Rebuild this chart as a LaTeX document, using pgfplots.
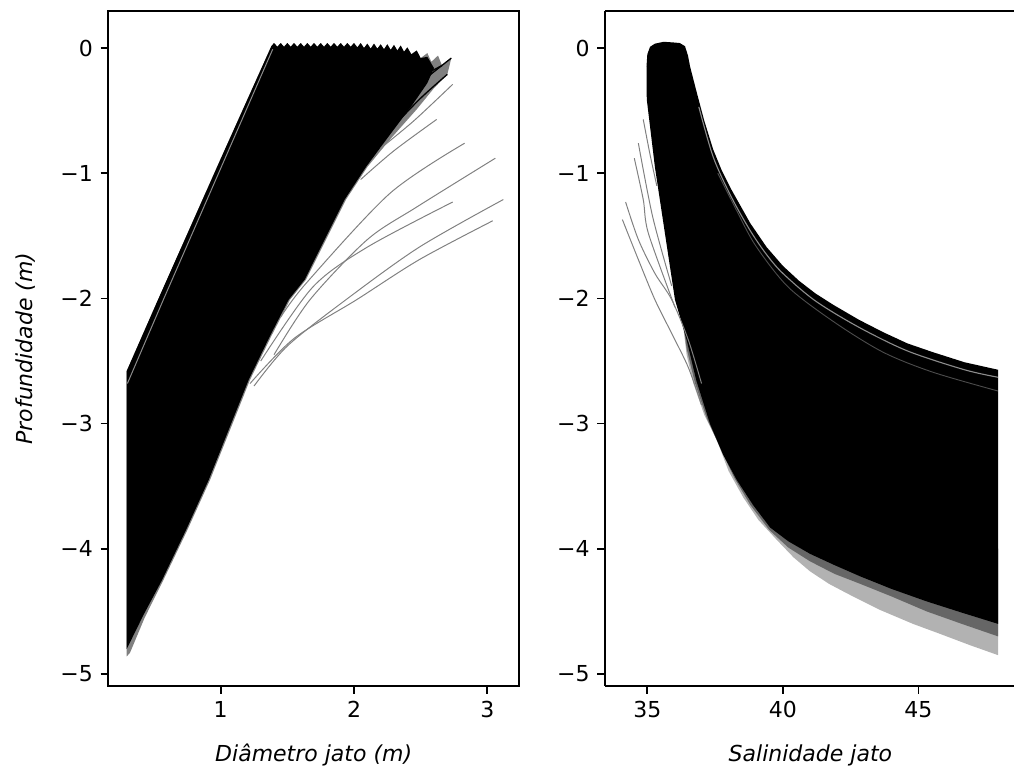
\documentclass[border=0pt]{standalone}
\usepackage{fontspec}
\setmainfont{DejaVu Sans}
\usepackage{pgfplots}
\pgfplotsset{compat=1.18}
\begin{document}
\begin{tikzpicture}
\pgfplotsset{
  myax/.style={
    scale only axis, width=186.7pt, height=306.8pt,
    ymin=-5.096, ymax=0.296,
    ytick={-5,-4,-3,-2,-1,0}, yticklabels={−5,−4,−3,−2,−1,0},
    tick align=outside, major tick length=3.5pt,
    tickpos=left,
    every tick/.style={black, line width=0.8pt},
    axis line style={line width=0.8pt},
    tick label style={font=\fontsize{10}{12}\selectfont},
    label style={font=\fontsize{10}{12}\selectfont\itshape},
    /pgf/number format/assume math mode=true,
    xlabel style={at={(axis description cs:0.5,-0.1023)}, anchor=center},
  },
  gl/.style={black!50, line width=0.45pt, smooth},
}
% ---------------- left panel ----------------
\begin{axis}[myax, at={(49.23pt,40pt)}, anchor=south west,
  xmin=0.157, xmax=3.238, xtick={1,2,3}, xticklabels={1,2,3},
  xlabel={Diâmetro jato (m)}, ylabel={Profundidade (m)},
  ylabel style={at={(axis description cs:-0.2003,0.5)}, anchor=center}]
% gray envelope (sparser lines)
\addplot[fill=black!50, draw=none] coordinates {
(0.295,-4.86) (0.295,-2.58) (0.53,-2.01) (1.0,-0.885) (1.38,0.015)
(1.40,0.04) (1.425,0.01) (1.45,0.04) (1.475,0.01) (1.50,0.04) (1.525,0.01)
(1.55,0.04) (1.575,0.01) (1.60,0.04) (1.625,0.01) (1.65,0.04) (1.675,0.01)
(1.70,0.04) (1.725,0.01) (1.75,0.04) (1.775,0.01) (1.80,0.04) (1.825,0.01)
(1.85,0.04) (1.875,0.01) (1.90,0.04) (1.925,0.01) (1.95,0.04) (1.975,0.01)
(2.00,0.04) (2.025,0.005) (2.05,0.04) (2.075,0.0) (2.10,0.035) (2.125,-0.005)
(2.15,0.035) (2.175,-0.005) (2.20,0.03) (2.225,-0.01) (2.25,0.03) (2.275,-0.015)
(2.30,0.025) (2.325,-0.02) (2.35,0.02) (2.375,-0.03) (2.40,0.005) (2.43,-0.05)
(2.47,-0.02) (2.50,-0.08) (2.55,-0.04) (2.58,-0.11) (2.63,-0.06) (2.66,-0.14)
(2.73,-0.08) (2.70,-0.21) (2.60,-0.32) (2.47,-0.49) (2.27,-0.73) (2.10,-0.95)
(1.94,-1.21) (1.79,-1.53) (1.64,-1.85) (1.52,-2.01) (1.38,-2.30) (1.22,-2.65)
(1.07,-3.05) (0.92,-3.45) (0.75,-3.85) (0.57,-4.25) (0.43,-4.55) (0.32,-4.83)
} -- cycle;
% dense black core
\addplot[fill=black, draw=none] coordinates {
(0.295,-4.80) (0.295,-2.58) (0.53,-2.01) (1.0,-0.885) (1.38,0.015)
(1.40,0.04) (1.425,0.01) (1.45,0.04) (1.475,0.01) (1.50,0.04) (1.525,0.01)
(1.55,0.04) (1.575,0.01) (1.60,0.04) (1.625,0.01) (1.65,0.04) (1.675,0.01)
(1.70,0.04) (1.725,0.01) (1.75,0.04) (1.775,0.01) (1.80,0.04) (1.825,0.01)
(1.85,0.04) (1.875,0.01) (1.90,0.04) (1.925,0.01) (1.95,0.04) (1.975,0.01)
(2.00,0.04) (2.025,0.005) (2.05,0.04) (2.075,0.0) (2.10,0.035) (2.125,-0.005)
(2.15,0.035) (2.175,-0.005) (2.20,0.03) (2.225,-0.01) (2.25,0.03) (2.275,-0.015)
(2.30,0.025) (2.325,-0.02) (2.35,0.02) (2.375,-0.03) (2.40,0.005) (2.43,-0.05)
(2.47,-0.02) (2.50,-0.08) (2.55,-0.07)
(2.60,-0.16) (2.55,-0.28) (2.44,-0.45) (2.25,-0.72) (2.09,-0.95) (1.93,-1.21)
(1.78,-1.53) (1.63,-1.85) (1.51,-2.01) (1.37,-2.30) (1.21,-2.65) (1.06,-3.05)
(0.91,-3.45) (0.74,-3.85) (0.56,-4.25) (0.42,-4.53) (0.30,-4.79)
} -- cycle;
% dark lines reaching the upper right tips
\addplot[black, line width=0.6pt, smooth] coordinates {(2.15,-0.62) (2.45,-0.32) (2.73,-0.08)};
\addplot[black, line width=0.6pt, smooth] coordinates {(2.10,-0.60) (2.40,-0.30) (2.66,-0.14)};
\addplot[black, line width=0.6pt, smooth] coordinates {(2.30,-0.62) (2.50,-0.40) (2.70,-0.21)};
% light streak near the left edge
\addplot[white, opacity=0.55, line width=0.45pt] coordinates {(0.30,-2.68) (0.57,-2.01) (1.39,-0.01)};
% isolated trajectories
\addplot[gl] coordinates {(2.20,-0.80) (2.45,-0.58) (2.74,-0.29)};
\addplot[gl] coordinates {(2.05,-1.05) (2.30,-0.82) (2.62,-0.57)};
\addplot[gl] coordinates {(1.45,-2.15) (1.64,-1.88) (2.27,-1.16) (2.83,-0.76)};
\addplot[gl] coordinates {(1.40,-2.45) (1.67,-2.01) (2.10,-1.53) (2.47,-1.27) (3.06,-0.88)};
\addplot[gl] coordinates {(1.30,-2.50) (1.69,-1.91) (2.10,-1.59) (2.74,-1.23)};
\addplot[gl] coordinates {(1.25,-2.70) (1.50,-2.38) (1.94,-2.01) (2.49,-1.59) (3.12,-1.21)};
\addplot[gl] coordinates {(1.22,-2.68) (1.55,-2.32) (2.02,-2.01) (2.49,-1.69) (3.04,-1.38)};
\end{axis}
% ---------------- right panel ----------------
\begin{axis}[myax, at={(275.0pt,40pt)}, anchor=south west,
  separate axis lines, axis x line*=box, axis y line*=left,
  xmin=33.44, xmax=48.59, xtick={35,40,45}, xticklabels={35,40,45},
  xlabel={Salinidade jato}]
% lower gray fringe, outer (light)
\addplot[fill=black!30, draw=none] coordinates {
(36.2,-2.0) (36.45,-2.45) (36.7,-2.68) (37.1,-2.93) (37.56,-3.13) (38.0,-3.38)
(38.54,-3.59) (39.1,-3.77) (39.78,-3.93) (40.4,-4.07) (41.0,-4.18) (41.7,-4.28)
(42.4,-4.36) (43.6,-4.49) (44.8,-4.60) (45.8,-4.68) (46.9,-4.77) (47.94,-4.85)
(47.94,-4.0) (40.0,-3.5) (38.0,-3.0)
} -- cycle;
% lower gray fringe, inner (darker)
\addplot[fill=black!60, draw=none] coordinates {
(36.2,-2.0) (36.45,-2.40) (36.75,-2.67) (37.2,-2.96) (37.7,-3.20) (38.2,-3.43)
(38.8,-3.65) (39.5,-3.85) (40.2,-3.99) (41.0,-4.10) (41.9,-4.20) (42.85,-4.28)
(44.0,-4.38) (45.3,-4.50) (46.6,-4.60) (47.94,-4.70)
(47.94,-4.0) (40.0,-3.5) (38.0,-3.0)
} -- cycle;
% dense black core
\addplot[fill=black, draw=none] coordinates {
(34.98,-0.41) (34.97,-0.15) (35.0,-0.05) (35.1,0.01) (35.28,0.035) (35.6,0.05)
(35.95,0.045) (36.2,0.04) (36.39,0.015) (36.50,-0.06) (36.58,-0.15) (36.83,-0.36)
(37.1,-0.58) (37.43,-0.81) (37.75,-0.98) (38.1,-1.13) (38.8,-1.40) (39.4,-1.59)
(40.0,-1.74) (40.6,-1.86) (41.2,-1.96) (41.85,-2.05) (42.8,-2.17) (43.7,-2.27)
(44.6,-2.36) (45.54,-2.43) (46.7,-2.51) (47.94,-2.57)
(47.94,-4.60) (46.6,-4.51) (45.3,-4.42) (44.0,-4.32) (42.85,-4.22) (41.9,-4.13)
(41.0,-4.04) (40.2,-3.94) (39.53,-3.83) (38.9,-3.65) (38.3,-3.45) (37.8,-3.25)
(37.31,-3.0) (36.8,-2.65) (36.45,-2.33) (36.02,-2.01) (35.65,-1.48) (35.28,-0.95)
} -- cycle;
% light streaks in the upper band
\addplot[white, opacity=0.55, line width=0.5pt, smooth] coordinates {
(36.9,-0.47) (37.43,-0.87) (38.1,-1.19) (38.8,-1.46) (39.4,-1.65) (40.0,-1.80)
(41.2,-2.02) (42.8,-2.23) (44.6,-2.42) (46.7,-2.57) (47.94,-2.63)};
\addplot[white, opacity=0.3, line width=0.4pt, smooth] coordinates {
(37.6,-1.0) (38.3,-1.30) (39.0,-1.58) (40.2,-1.91) (41.9,-2.19)
(43.7,-2.43) (45.54,-2.59) (47.94,-2.74)};
% isolated trajectories
\addplot[gl] coordinates {(34.85,-0.57) (35.10,-0.85) (35.35,-1.10)};
\addplot[gl] coordinates {(34.67,-0.76) (35.20,-1.35) (35.90,-1.90)};
\addplot[gl] coordinates {(34.52,-0.88) (34.85,-1.21) (35.04,-1.48) (36.02,-2.07)};
\addplot[gl] coordinates {(34.20,-1.23) (34.67,-1.53) (35.28,-1.80) (35.90,-2.01) (36.51,-2.33) (37.0,-2.68)};
\addplot[gl] coordinates {(34.08,-1.37) (34.67,-1.69) (35.28,-2.01) (35.90,-2.28) (36.51,-2.55) (37.0,-2.85)};
\end{axis}
\pgfresetboundingbox
\path[use as bounding box] (0,0) rectangle (460.9pt,351.8pt);
\end{tikzpicture}
\end{document}
